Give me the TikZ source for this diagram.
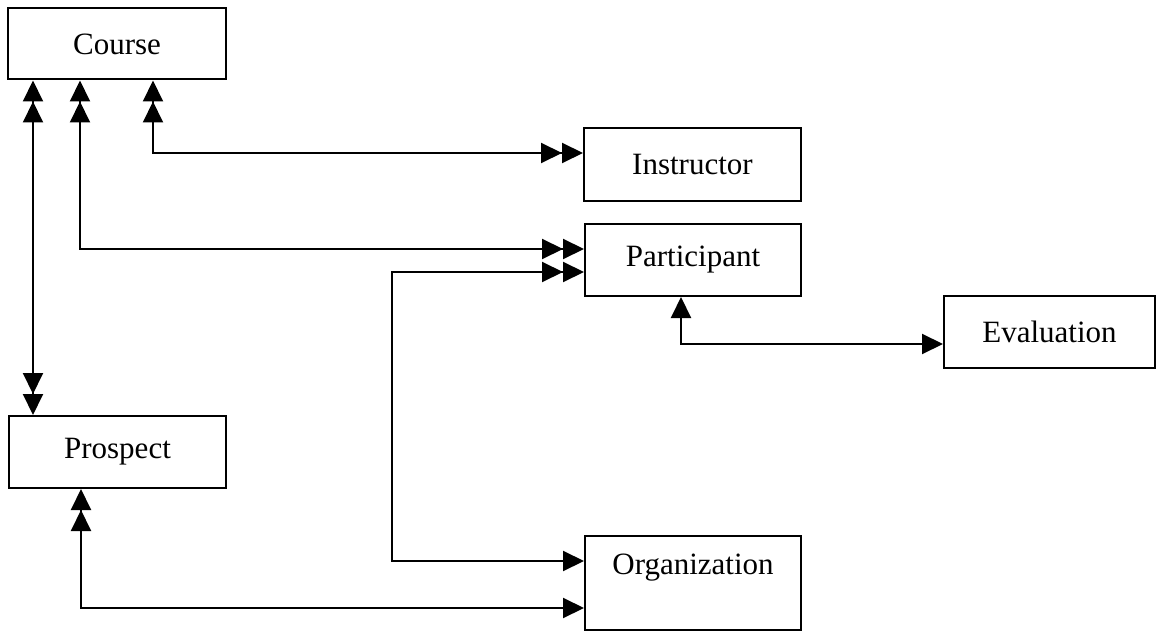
\documentclass[tikz,border=0pt]{standalone}
\usepackage{fontspec}
\setmainfont{Liberation Serif}
\usetikzlibrary{arrows.meta}

\tikzset{
    entity/.style = {draw, rectangle, line width = 2pt, minimum width = 217pt, minimum height = 72pt, inner sep = 0pt, font = \fontsize{31pt}{37pt}\selectfont},
    link/.style = {line width = 2pt}
}

\begin{document}
\begin{tikzpicture}[> = {Triangle[length = 21pt, width = 20pt]}]

        \useasboundingbox (0pt, 0pt) rectangle (1156pt, 633pt);

        \node [entity, minimum width = 218pt, minimum height = 71pt] (course) at (117pt, 589pt) {Course};
        \node [entity, minimum height = 73pt] (instructor) at (692.5pt, 468.5pt) {Instructor};
        \node [entity, minimum width = 216pt] (participant) at (693pt, 373pt) {Participant};
        \node [entity, minimum width = 211pt] (evaluation) at (1049.5pt, 301pt) {Evaluation};
        \node [entity] (prospect) at (117.5pt, 181pt) {Prospect};
        \node [entity, minimum width = 216pt, minimum height = 94pt, align = center] (organization) at (693pt, 50pt) {Organization\\ ~};

        % Course links
        \draw [link, <<->>] (course.south -| 153pt, 0pt) |- (instructor.west |- 0pt, 480pt);
        \draw [link, <<->>] (course.south -| 80pt, 0pt) |- (participant.west |- 0pt, 384pt);
        \draw [link, <<->>] (course.south -| 33pt, 0pt) -- (prospect.north -| 33pt, 0pt);

        % Organization links
        \draw [link, <<->] (participant.west |- 0pt, 361pt) -- ++(-192pt, 0pt) |- (organization.west |- 0pt, 72pt);
        \draw [link, <<->] (prospect.south -| 81pt, 0pt) |- (organization.west |- 0pt, 25pt);

        % Evaluation link
        \draw [link, <->] (participant.south -| 681pt, 0pt) |- (evaluation.west |- 0pt, 289pt);

    \end{tikzpicture}
\end{document}
